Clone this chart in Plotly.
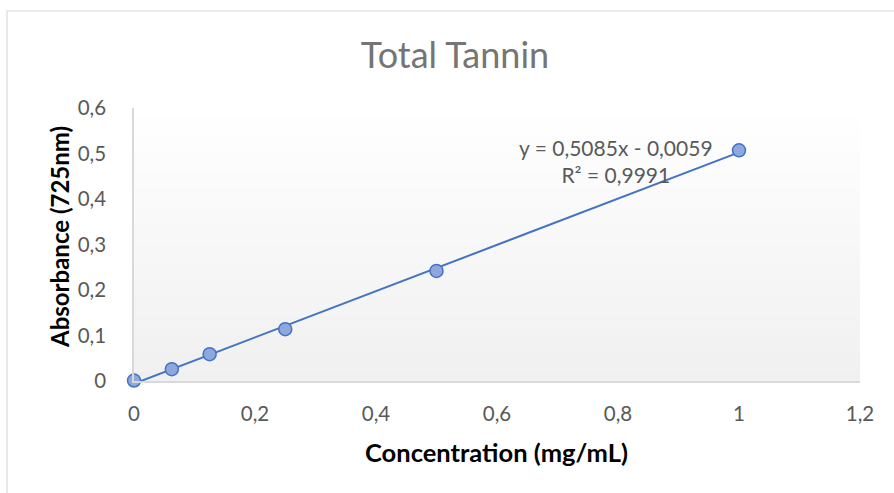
import plotly.graph_objects as go

# Standard curve data: concentration (mg/mL) vs absorbance at 725 nm
concentration = [0, 0.0625, 0.125, 0.25, 0.5, 1]
absorbance = [0.001, 0.026, 0.059, 0.114, 0.242, 0.507]

# Linear trendline from the fitted equation
slope = 0.5085
intercept = -0.0059
r_squared = 0.9991

x_ticks = [0, 0.2, 0.4, 0.6, 0.8, 1.0, 1.2]
y_ticks = [0, 0.1, 0.2, 0.3, 0.4, 0.5, 0.6]

W, H = 894, 493
plot_left, plot_right = 134, 860
plot_top, plot_bottom = 108, 381

fit_x = [min(concentration), max(concentration)]
fit_y = [slope * v + intercept for v in fit_x]


def comma(v):
    return ("%.4f" % v).replace(".", ",")


fig = go.Figure()

fig.add_trace(go.Scatter(
    x=fit_x, y=fit_y, mode="lines",
    line=dict(color="#4472c4", width=2),
    hoverinfo="skip", showlegend=False, cliponaxis=False,
))
fig.add_trace(go.Scatter(
    x=concentration, y=absorbance, mode="markers",
    marker=dict(size=13, color="#8ea7dc", line=dict(color="#4472c4", width=1.5)),
    showlegend=False, cliponaxis=False,
))

# Vertical gradient fill of the plot area (white at top to light grey at bottom)
shapes = []
n_bands = 60
top_rgb = (255, 255, 255)
bot_rgb = (240, 240, 240)
for i in range(n_bands):
    t = (i + 0.5) / n_bands
    c = tuple(round(top_rgb[k] + (bot_rgb[k] - top_rgb[k]) * t) for k in range(3))
    shapes.append(dict(
        type="rect", xref="x domain", yref="y domain",
        x0=0, x1=1, y0=1 - (i + 1) / n_bands, y1=1 - i / n_bands + 0.002,
        fillcolor="rgb(%d,%d,%d)" % c, line=dict(width=0), layer="below",
    ))

# Chart area border
shapes.append(dict(
    type="rect", xref="paper", yref="paper",
    x0=7 / W, x1=1.02, y0=-0.02, y1=1 - 11 / H,
    line=dict(color="#d9d9d9", width=1.2), fillcolor="rgba(0,0,0,0)", layer="below",
))

annotations = [
    # Trendline equation
    dict(
        x=0.797, y=0.484, xref="x", yref="y",
        text="y = %sx - %s<br>R² = %s" % (comma(slope), comma(abs(intercept)), comma(r_squared)),
        showarrow=False, align="center",
        font=dict(size=21, color="#595959"),
    ),
    # Axis titles
    dict(
        x=497 / W, y=1 - 452 / H, xref="paper", yref="paper",
        text="<b>Concentration (mg/mL)</b>", showarrow=False,
        xanchor="center", yanchor="middle",
        font=dict(size=25.5, color="#000000"),
    ),
    dict(
        x=59 / W, y=1 - 237 / H, xref="paper", yref="paper",
        text="<b>Absorbance (725nm)</b>", showarrow=False, textangle=-90,
        xanchor="center", yanchor="middle",
        font=dict(size=24, color="#000000"),
    ),
]

fig.update_layout(
    width=W, height=H,
    margin=dict(l=0, r=0, t=0, b=0),
    paper_bgcolor="white",
    plot_bgcolor="rgba(0,0,0,0)",
    separators=", ",
    font=dict(family="Lato, Carlito, sans-serif", color="#595959"),
    title=dict(
        text="Total Tannin", x=455 / W, xanchor="center",
        y=1 - 55 / H, yanchor="middle",
        font=dict(size=36, color="#757575"),
    ),
    shapes=shapes,
    xaxis=dict(
        domain=[plot_left / W, plot_right / W],
        range=[0, 1.2], tickvals=x_ticks,
        tickformat=".1~f",
        showgrid=False, zeroline=False,
        showline=True, linecolor="#d9d9d9", linewidth=1.5,
        ticks="", ticklabelstandoff=14,
        tickfont=dict(size=20.5, color="#595959"),
        automargin=False,
    ),
    yaxis=dict(
        domain=[1 - plot_bottom / H, 1 - plot_top / H],
        range=[0, 0.6], tickvals=y_ticks,
        tickformat=".1~f",
        showgrid=False, zeroline=False,
        showline=True, linecolor="#d9d9d9", linewidth=1.5,
        ticks="", ticklabelstandoff=22,
        tickfont=dict(size=20.5, color="#595959"),
        automargin=False,
    ),
    annotations=annotations,
)

fig.write_html("out.html")
